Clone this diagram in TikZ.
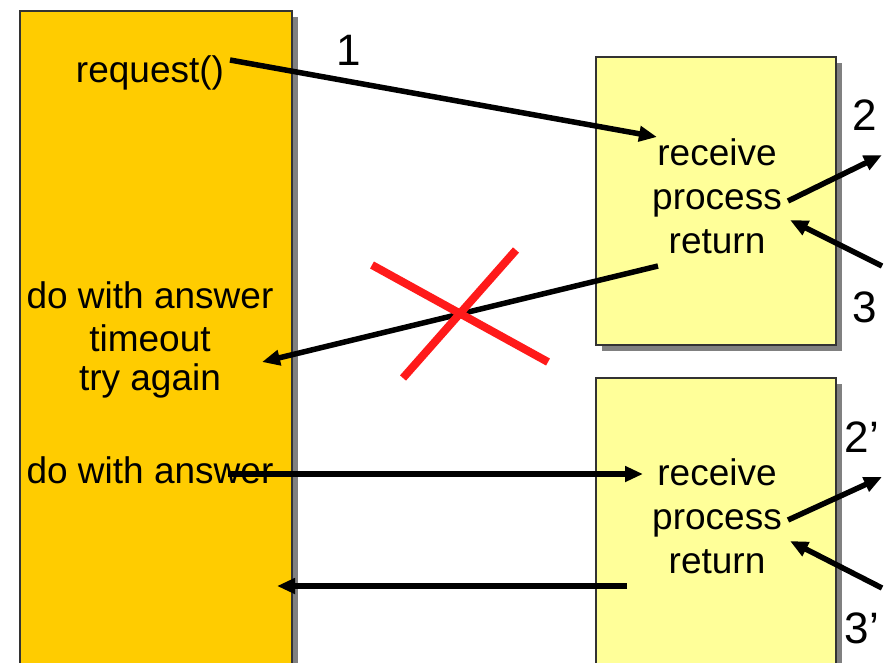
\documentclass[tikz,border=0pt]{standalone}
\usepackage{fontspec}
\setmainfont{Liberation Sans}
\usetikzlibrary{arrows.meta}

\definecolor{client}{HTML}{FFCC00}
\definecolor{server}{HTML}{FFFF99}
\definecolor{edge}{HTML}{333333}
\definecolor{shadowgray}{HTML}{808080}
\definecolor{crossred}{HTML}{FF1A1A}

\tikzset{
	msg/.style={line width=5.5pt, -{Triangle[length=18pt,width=15pt]}},
	box/.style={draw=edge, line width=1.5pt},
	boxshadow/.style={fill=shadowgray},
	cross/.style={draw=crossred, line width=8pt},
	numlabel/.style={font=\fontsize{44}{50}\selectfont}
}

\begin{document}
\begin{tikzpicture}[x=1pt,y=-1pt,font=\fontsize{37}{44}\selectfont]

	\clip (0,0) rectangle (886,662);

	% client box
	\fill[boxshadow] (26,17) rectangle (298,700);
	\filldraw[box, fill=client] (20,11) rectangle (292,700);

	% server boxes
	\fill[boxshadow] (602,63) rectangle (842,351);
	\filldraw[box, fill=server] (596,57) rectangle (836,345);
	\fill[boxshadow] (602,384) rectangle (842,700);
	\filldraw[box, fill=server] (596,378) rectangle (836,700);

	% client text
	\node (req) at (150,73) {request()};
	\node (ansA) at (150,295) {do with answer};
	\node (tmo) at (150,338) {timeout};
	\node (try) at (150,381) {try again};
	\node (ansB) at (150,470) {do with answer};

	% server text
	\node[align=center] (srvA) at (717,196) {receive\\process\\return};
	\node[align=center] (srvB) at (717,516) {receive\\process\\return};

	% first call
	\coordinate (R1) at (230,60);
	\coordinate (R2) at (657,137);
	\draw[msg] (R1) -- (R2);
	\node[numlabel] (lblA) at (349,50) {1};

	\coordinate (P1) at (788,201);
	\coordinate (P2) at (882,155);
	\draw[msg] (P1) -- (P2);
	\node[numlabel] (lblB) at (865,115) {2};

	\coordinate (Q1) at (882,266);
	\coordinate (Q2) at (790,220);
	\draw[msg] (Q1) -- (Q2);
	\node[numlabel] (lblC) at (865,307) {3};

	% lost answer
	\coordinate (A1) at (658,266);
	\coordinate (A2) at (262,362);
	\draw[msg] (A1) -- (A2);
	\draw[cross] (372,265) -- (548,362);
	\draw[cross] (516,250) -- (403,378);

	% second call
	\coordinate (S1) at (228,474);
	\coordinate (S2) at (643,474);
	\draw[msg] (S1) -- (S2);

	\coordinate (P3) at (788,520);
	\coordinate (P4) at (882,477);
	\draw[msg] (P3) -- (P4);
	\node[numlabel] (lblD) at (862,437) {2’};

	\coordinate (Q3) at (882,588);
	\coordinate (Q4) at (790,541);
	\draw[msg] (Q3) -- (Q4);
	\node[numlabel] (lblE) at (862,628) {3’};

	\coordinate (B1) at (627,586);
	\coordinate (B2) at (277,586);
	\draw[msg] (B1) -- (B2);

\end{tikzpicture}
\end{document}
